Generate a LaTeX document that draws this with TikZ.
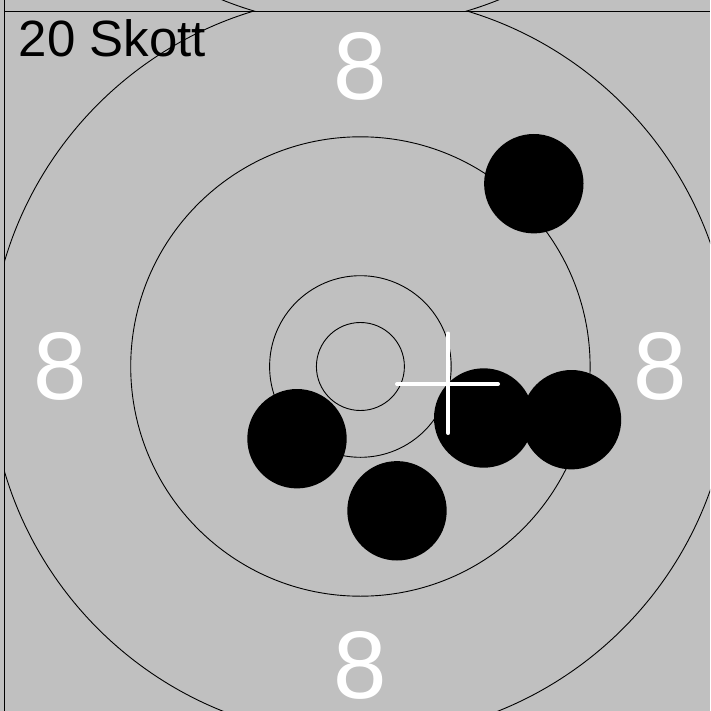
\documentclass[tikz,border=0pt]{standalone}
\usepackage{fontspec}
\setmainfont{Liberation Sans}
\definecolor{targetgray}{RGB}{192,192,192}
\begin{document}
\begin{tikzpicture}[x=1pt,y=-1pt,
  ring/.style={draw=black,line width=0.9pt},
  shot/.style={circle,fill=black,inner sep=0pt,minimum size=99.4pt},
  score/.style={text=white,font=\fontsize{96}{96}\selectfont,inner sep=0pt},
  frameline/.style={draw=black,line width=1.2pt},
  cross/.style={draw=white,line width=4pt,line cap=round}]
\useasboundingbox (0,0) rectangle (710,711);
\fill[targetgray] (0,0) rectangle (710,711);
% strip of the target above
\begin{scope}
  \clip (0,0) rectangle (710,11.5);
  \coordinate (prevc) at (360.4,-344.5);
  \draw[ring] (prevc) circle[radius=371];
\end{scope}
% current target
\begin{scope}
  \clip (4.5,11.5) rectangle (710,711);
  \coordinate (c) at (360.4,366.5);
  \draw[ring] (c) circle[radius=44];
  \draw[ring] (c) circle[radius=90.8];
  \draw[ring] (c) circle[radius=229.7];
  \draw[ring] (c) circle[radius=371];
  \node[score] (s-top) at (360.4,66) {8};
  \node[score] (s-left) at (60.5,366.7) {8};
  \node[score] (s-right) at (660,366.7) {8};
  \node[score] (s-bottom) at (360.5,665.5) {8};
  \node[shot] (h1) at (533.8,183.7) {};
  \node[shot] (h2) at (297,438.7) {};
  \node[shot] (h3) at (397,510.8) {};
  \node[shot] (h4) at (483.7,418) {};
  \node[shot] (h5) at (571.5,419.7) {};
  \coordinate (ch-l) at (397,384);
  \coordinate (ch-r) at (498,384);
  \coordinate (ch-t) at (448.3,333.5);
  \coordinate (ch-b) at (448.3,433);
  \draw[cross] (ch-l) -- (ch-r);
  \draw[cross] (ch-t) -- (ch-b);
  \node[anchor=base west,inner sep=0pt,text=black,font=\fontsize{51}{51}\selectfont] (title) at (18.5,57) {20 Skott};
\end{scope}
\coordinate (fl-top) at (4.5,0);
\coordinate (fl-bot) at (4.5,711);
\coordinate (ft-l) at (4.5,11.5);
\coordinate (ft-r) at (710,11.5);
\draw[frameline] (fl-top) -- (fl-bot);
\draw[frameline] (ft-l) -- (ft-r);
\end{tikzpicture}
\end{document}
